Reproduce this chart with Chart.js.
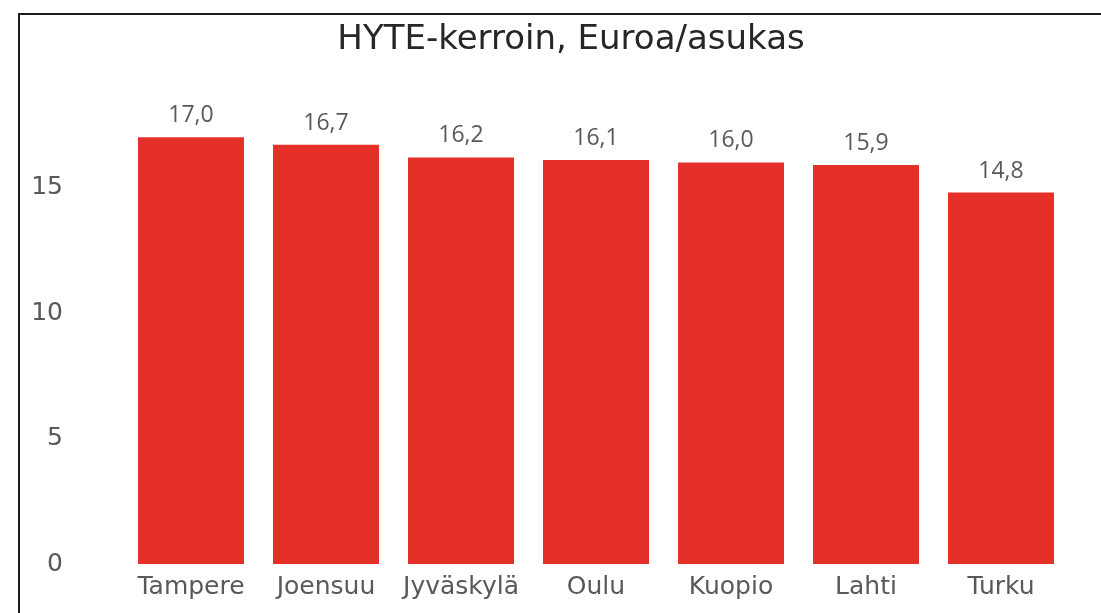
<!DOCTYPE html>
<html>
<head>
    <meta charset="utf-8">
    <title>HYTE-kerroin</title>
    <script src="https://cdn.jsdelivr.net/npm/chart.js"></script>
    <style>
        html, body { margin: 0; padding: 0; background: #fff; overflow: hidden; }
        .wrap { position: relative; width: 1101px; height: 613px; }
        .frame {
            position: absolute; left: 18px; top: 13px;
            width: 1200px; height: 700px;
            border-left: 2px solid #1c1c1c; border-top: 2px solid #1c1c1c;
        }
        canvas { position: absolute; left: 0; top: 0; }
    </style>
</head>
<body>
<div class="wrap">
    <div class="frame"></div>
    <canvas id="chart" width="1101" height="613"></canvas>
</div>

<script>
    // kaupungit ja arvot
    const cities = ['Tampere', 'Joensuu', 'Jyväskylä', 'Oulu', 'Kuopio', 'Lahti', 'Turku'];
    const hyteValues = [17.0, 16.7, 16.2, 16.1, 16.0, 15.9, 14.8];
    const yTicks = [0, 5, 10, 15];

    const barColor = '#e5302a';
    const textGrey = '#595959';
    const axisFont = '"DejaVu Sans", Verdana, sans-serif';

    const valueLabels = {
        id: 'valueLabels',
        afterLayout(chart) {
            // otsikko keskitetään kuten alkuperäisessä
            chart.titleBlock.left = 73.5;
            chart.titleBlock.right = chart.chartArea.right;
        },
        // arvot pylväiden yläpuolelle
        afterDatasetsDraw(chart) {
            const ctx = chart.ctx;
            const meta = chart.getDatasetMeta(0);
            ctx.save();
            ctx.font = '23px "Open Sans", sans-serif';
            ctx.fillStyle = textGrey;
            ctx.textAlign = 'center';
            ctx.textBaseline = 'alphabetic';
            meta.data.forEach((bar, i) => {
                const v = chart.data.datasets[0].data[i];
                ctx.fillText(v.toFixed(1).replace('.', ','), bar.x, bar.y - 15);
            });
            ctx.restore();
        }
    };

    const ctx = document.getElementById('chart').getContext('2d');
    new Chart(ctx, {
        type: 'bar',
        data: {
            labels: cities,
            datasets: [{
                data: hyteValues,
                backgroundColor: barColor,
                borderWidth: 0,
                categoryPercentage: 1,
                barPercentage: 0.785
            }]
        },
        options: {
            responsive: false,
            animation: false,
            layout: { padding: { left: -29.3, right: 32.5, top: 0, bottom: 1.8 } },
            plugins: {
                legend: { display: false },
                tooltip: { enabled: false },
                title: {
                    display: true,
                    text: 'HYTE-kerroin, Euroa/asukas',
                    color: '#262626',
                    font: { family: axisFont, size: 34, weight: 'normal' },
                    padding: { top: 19.5, bottom: 1.7 }
                }
            },
            scales: {
                x: {
                    grid: { display: false, drawTicks: false },
                    border: { display: false },
                    ticks: {
                        color: textGrey,
                        padding: 8.6,
                        maxRotation: 0,
                        font: { family: axisFont, size: 25 }
                    }
                },
                y: {
                    min: 0,
                    max: 20,
                    grid: { display: false, drawTicks: false },
                    border: { display: false },
                    afterFit(scale) {
                        // iso tick-padding ei saa kasvattaa pystysuuntaista tilaa
                        scale.paddingTop = 0;
                        scale.paddingBottom = 0;
                    },
                    ticks: {
                        stepSize: 5,
                        color: textGrey,
                        padding: 60.5,
                        font: { family: axisFont, size: 25 },
                        callback: v => yTicks.includes(v) ? v : ''
                    }
                }
            }
        },
        plugins: [valueLabels]
    });
</script>
</body>
</html>
